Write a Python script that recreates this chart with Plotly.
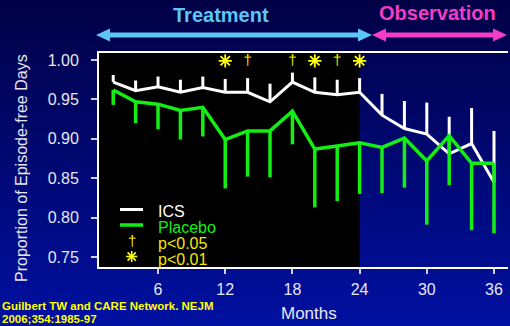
import plotly.graph_objects as go

# ---- data -------------------------------------------------------------
months = [2, 4, 6, 8, 10, 12, 14, 16, 18, 20, 22, 24, 26, 28, 30, 32, 34, 36]

ics_mean = [0.972, 0.961, 0.966, 0.959, 0.965, 0.959, 0.959, 0.947, 0.972,
            0.959, 0.956, 0.959, 0.930, 0.913, 0.906, 0.881, 0.894, 0.845]
ics_upper = [0.981, 0.974, 0.979, 0.975, 0.979, 0.976, 0.977, 0.970, 0.984,
             0.978, 0.975, 0.977, 0.957, 0.948, 0.946, 0.928, 0.939, 0.910]

placebo_mean = [0.962, 0.947, 0.944, 0.936, 0.940, 0.899, 0.910, 0.910, 0.935,
                0.887, 0.891, 0.895, 0.889, 0.901, 0.872, 0.904, 0.869, 0.869]
placebo_lower = [0.943, 0.920, 0.912, 0.899, 0.903, 0.837, 0.852, 0.851, 0.893,
                 0.813, 0.821, 0.830, 0.831, 0.838, 0.791, 0.841, 0.784, 0.780]

p05_months = [14, 18, 22]
p01_months = [12, 20, 24]

x_ticks = [6, 12, 18, 24, 30, 36]
y_ticks = [0.75, 0.80, 0.85, 0.90, 0.95, 1.00]

treatment_end = 24

# ---- geometry ---------------------------------------------------------
W, H = 510, 326
ML, MR, MT, MB = 99, 2, 53, 59
PW, PH = W - ML - MR, H - MT - MB
X_RANGE = [0.73, 37.25]
Y_RANGE = [0.7373, 1.0089]
MARK_Y = 0.999   # row where significance symbols sit


def px(x):
    return (x - ML) / PW


def py(y):
    return (H - MB - y) / PH


FONT = "Liberation Sans, Arial, sans-serif"
WHITE = "#FFFFFF"
GREEN = "#14EE14"
YELLOW = "#F4EA00"
STAR = "#FFFF10"
SKY = "#5CC6F6"
PINK = "#F43CC6"

fig = go.Figure()

fig.add_trace(go.Scatter(
    x=months, y=ics_mean, mode="lines", name="ICS",
    line=dict(color=WHITE, width=3),
    error_y=dict(type="data", symmetric=False,
                 array=[u - m for u, m in zip(ics_upper, ics_mean)],
                 arrayminus=[0] * len(months),
                 color=WHITE, thickness=3, width=0),
    showlegend=False,
))
fig.add_trace(go.Scatter(
    x=months, y=placebo_mean, mode="lines", name="Placebo",
    line=dict(color=GREEN, width=3.5),
    error_y=dict(type="data", symmetric=False,
                 array=[0] * len(months),
                 arrayminus=[m - l for m, l in zip(placebo_mean, placebo_lower)],
                 color=GREEN, thickness=3.5, width=0),
    showlegend=False,
))
fig.add_trace(go.Scatter(
    x=p01_months, y=[MARK_Y] * len(p01_months), mode="markers",
    marker=dict(symbol="asterisk-open", size=11, color=STAR,
                line=dict(color=STAR, width=1.8)),
    showlegend=False, cliponaxis=False,
))
fig.add_trace(go.Scatter(
    x=p05_months, y=[MARK_Y] * len(p05_months), mode="text",
    text=["†"] * len(p05_months), textposition="middle center",
    textfont=dict(family=FONT, size=15, color=YELLOW),
    showlegend=False, cliponaxis=False,
))

shapes = []

# slide background: vertical blue gradient built from thin bands
top_c = (0, 0, 70)
bot_c = (0, 16, 160)
n_band = 60
for i in range(n_band):
    t = i / (n_band - 1)
    c = tuple(round(a + (b - a) * t) for a, b in zip(top_c, bot_c))
    y0 = H * i / n_band
    y1 = H * (i + 1) / n_band + 0.6
    shapes.append(dict(type="rect", xref="paper", yref="paper", layer="below",
                       x0=px(-2), x1=px(W + 2), y0=py(y1), y1=py(y0),
                       line=dict(width=0), fillcolor="rgb(%d,%d,%d)" % c))

# black panel behind the treatment period
shapes.append(dict(type="rect", xref="x", yref="paper", layer="below",
                   x0=X_RANGE[0], x1=treatment_end, y0=0, y1=1,
                   line=dict(width=0), fillcolor="#000000"))


def double_arrow(x_left, x_right, y, color, head_len=14, head_half=6.5, shaft=5):
    out = [dict(type="rect", xref="paper", yref="paper", layer="above",
                x0=px(x_left + head_len - 1), x1=px(x_right - head_len + 1),
                y0=py(y + shaft / 2), y1=py(y - shaft / 2),
                line=dict(width=0), fillcolor=color)]
    left = "M %f %f L %f %f L %f %f Z" % (
        px(x_left), py(y), px(x_left + head_len), py(y - head_half),
        px(x_left + head_len), py(y + head_half))
    right = "M %f %f L %f %f L %f %f Z" % (
        px(x_right), py(y), px(x_right - head_len), py(y - head_half),
        px(x_right - head_len), py(y + head_half))
    for p in (left, right):
        out.append(dict(type="path", xref="paper", yref="paper", layer="above",
                        path=p, line=dict(width=0), fillcolor=color))
    return out


shapes += double_arrow(96, 372, 35, SKY)
shapes += double_arrow(372, 507, 35, PINK)

# legend glyphs
shapes.append(dict(type="line", xref="paper", yref="paper",
                   x0=px(120), x1=px(143), y0=py(209.5), y1=py(209.5),
                   line=dict(color=WHITE, width=3)))
shapes.append(dict(type="line", xref="paper", yref="paper",
                   x0=px(120), x1=px(143), y0=py(225), y1=py(225),
                   line=dict(color=GREEN, width=3.5)))
cx, cy, r = 131.7, 256.5, 5.5
for dx, dy in [(r, 0), (0, r), (r * 0.75, r * 0.75), (r * 0.75, -r * 0.75)]:
    shapes.append(dict(type="line", xref="paper", yref="paper",
                       x0=px(cx - dx), x1=px(cx + dx),
                       y0=py(cy - dy), y1=py(cy + dy),
                       line=dict(color=STAR, width=1.6)))

annotations = []


def text(x, y, s, size, color, xanchor="left", bold=False, angle=0):
    annotations.append(dict(
        xref="paper", yref="paper", x=px(x), y=py(y), text=s,
        showarrow=False, xanchor=xanchor, yanchor="middle", textangle=angle,
        borderpad=0,
        font=dict(family=FONT, size=size, color=color,
                  weight="bold" if bold else "normal")))


text(221, 15, "Treatment", 20, SKY, xanchor="center", bold=True)
text(437, 13.5, "Observation", 20, PINK, xanchor="center", bold=True)

text(157, 211, "ICS", 16, WHITE)
text(157, 227, "Placebo", 16, GREEN)
text(131.7, 240, "†", 15, YELLOW, xanchor="center")
text(157, 243, "p<0.05", 16, YELLOW)
text(157, 259, "p<0.01", 16, YELLOW)

text(309, 313, "Months", 17, "#E6E6F0", xanchor="center")
text(21, 168, "Proportion of Episode-free Days", 16, "#E6E6F0",
     xanchor="center", angle=-90)

# source reference in the lower-left corner
text(1, 306, "Guilbert TW and CARE Network. NEJM", 11.5, "#FFFF00", bold=True)
text(1, 319, "2006;354:1985-97", 11.5, "#FFFF00", bold=True)

fig.update_layout(
    width=W, height=H, autosize=False,
    margin=dict(l=ML, r=MR, t=MT, b=MB, pad=0),
    paper_bgcolor="rgb(0,8,110)",
    plot_bgcolor="rgba(0,0,0,0)",
    shapes=shapes, annotations=annotations,
    xaxis=dict(range=X_RANGE, tickvals=x_ticks, showgrid=False, zeroline=False,
               showline=True, linecolor=WHITE, linewidth=2, mirror=True,
               ticks="outside", ticklen=5, tickwidth=1.5, tickcolor="#D0D0E0",
               tickfont=dict(family=FONT, size=16, color="#E6E6F0"),
               ticklabelstandoff=2),
    yaxis=dict(range=Y_RANGE, tickvals=y_ticks, tickformat=".2f",
               showgrid=False, zeroline=False,
               showline=True, linecolor=WHITE, linewidth=2,
               ticks="outside", ticklen=6, tickwidth=1.5, tickcolor="#D0D0E0",
               tickfont=dict(family=FONT, size=16, color="#E6E6F0"),
               ticklabelstandoff=9),
)

fig.write_html("out.html")
